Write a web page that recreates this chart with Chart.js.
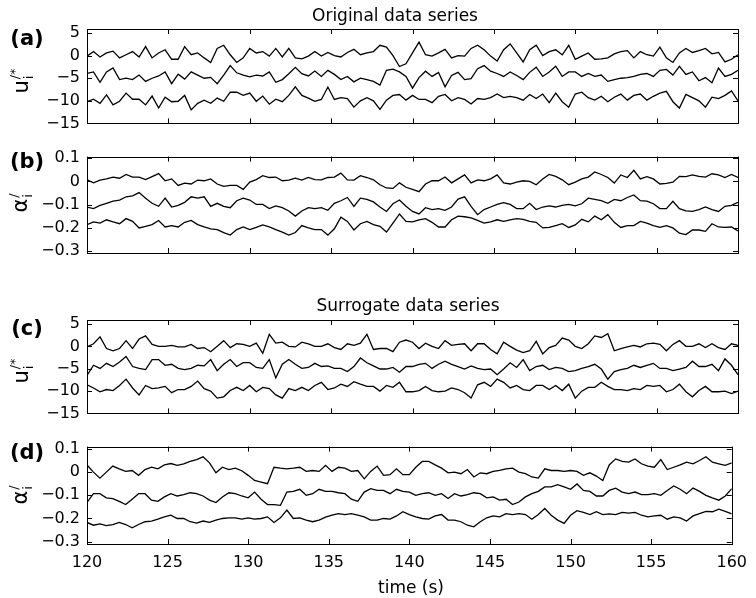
<!DOCTYPE html>
<html><head><meta charset="utf-8">
<script src="https://cdn.jsdelivr.net/npm/chart.js@4.4.1/dist/chart.umd.min.js"></script>
<style>
html,body{margin:0;padding:0;background:#fff;}
#wrap{position:relative;width:756px;height:598px;overflow:hidden;background:#fff;font-family:'DejaVu Sans',sans-serif;color:#000;}
.cv{position:absolute;left:0;}
.t{position:absolute;white-space:nowrap;line-height:1;transform:translate(-50%,-50%);}
.pl{font-weight:bold;font-size:21px;}
.tt{font-size:17px;}
.yl{position:absolute;white-space:nowrap;line-height:1;font-size:21px;transform:translate(-50%,-50%) rotate(-90deg);}
.ss{display:inline-block;vertical-align:middle;font-size:13px;line-height:1.05;text-align:left;margin-left:1px;}
.ss span{display:block;}
</style></head><body>
<div id="wrap">
<canvas id="ca" class="cv" style="top:0px" width="756" height="140"></canvas>
<canvas id="cb" class="cv" style="top:140px" width="756" height="130"></canvas>
<canvas id="cc" class="cv" style="top:290px" width="756" height="140"></canvas>
<canvas id="cd" class="cv" style="top:430px" width="756" height="168"></canvas>
<div class="t tt" style="left:395px;top:15px">Original data series</div>
<div class="t tt" style="left:408px;top:305px">Surrogate data series</div>
<div class="t pl" style="left:27px;top:38px">(a)</div>
<div class="t pl" style="left:27px;top:161px">(b)</div>
<div class="t pl" style="left:27px;top:328px">(c)</div>
<div class="t pl" style="left:27px;top:452px">(d)</div>
<div class="yl" style="left:22px;top:81px">u<span class="ss"><span>/*</span><span>i</span></span></div>
<div class="yl" style="left:21px;top:203px">α<span class="ss"><span>/</span><span>i</span></span></div>
<div class="yl" style="left:22px;top:371px">u<span class="ss"><span>/*</span><span>i</span></span></div>
<div class="yl" style="left:21px;top:495px">α<span class="ss"><span>/</span><span>i</span></span></div>
<div class="t tt" style="left:411px;top:587px">time (s)</div>
</div>
<script>
const TIME = [120,120.4,120.8,121.2,121.6,122,122.4,122.8,123.2,123.6,124,124.4,124.8,125.2,125.6,126,126.4,126.8,127.2,127.6,128,128.4,128.8,129.2,129.6,130,130.4,130.8,131.2,131.6,132,132.4,132.8,133.2,133.6,134,134.4,134.8,135.2,135.6,136,136.4,136.8,137.2,137.6,138,138.4,138.8,139.2,139.6,140,140.4,140.8,141.2,141.6,142,142.4,142.8,143.2,143.6,144,144.4,144.8,145.2,145.6,146,146.4,146.8,147.2,147.6,148,148.4,148.8,149.2,149.6,150,150.4,150.8,151.2,151.6,152,152.4,152.8,153.2,153.6,154,154.4,154.8,155.2,155.6,156,156.4,156.8,157.2,157.6,158,158.4,158.8,159.2,159.6,160];
const X_TICKS = [120,125,130,135,140,145,150,155,160];
const U_TICKS = [-15,-10,-5,0,5];
const A_TICKS = [-0.3,-0.2,-0.1,0,0.1];

// (a) original u*
const A1 = [-0.1,0.9,-0.3,0.6,1.0,-0.5,0.2,0.9,-0.3,2.0,-0.5,0.6,1.3,-0.8,-0.8,2.0,0.2,0.6,-0.5,-1.5,1.6,2.3,0.2,-1.5,-0.5,1.6,0.6,0.9,-0.1,1.6,-0.3,1.6,-0.5,-0.7,-0.1,0.9,
 -0.1,0.7,0.0,-0.3,0.7,1.4,0.2,0.6,0.9,2.3,1.9,0.0,-2.4,-1.8,0.6,3.0,0.2,-0.1,0.6,1.4,-0.5,0.0,-0.1,1.6,2.3,1.3,-0.1,-1.2,1.3,2.6,0.6,-1.4,
 1.3,2.3,0.0,0.9,1.3,0.2,2.3,-0.8,-0.1,0.6,-0.8,-0.7,-0.5,0.4,0.9,1.1,-0.5,0.9,0.2,-0.1,1.9,-0.5,-1.5,0.6,1.6,0.7,1.1,1.6,0.4,0.7,-1.4,-0.8,0.2];
const A2 = [-3.95,-3.6,-5.9,-3.6,-2.7,-5.3,-5.0,-5.3,-4.3,-5.7,-5.0,-4.5,-3.6,-6.2,-4.1,-5.2,-3.6,-4.3,-5.0,-4.8,-6.2,-4.3,-2.2,-3.8,-4.3,-4.7,-4.3,-4.5,-3.6,-5.9,-5.3,-4.0,-2.6,-4.0,-4.5,-3.4,
 -4.6,-3.25,-4.15,-5.3,-4.6,-5.8,-5.0,-5.3,-5.7,-6.5,-3.25,-3.0,-3.6,-4.6,-7.2,-4.85,-3.45,-4.6,-3.7,-6.9,-4.4,-3.7,-5.3,-5.1,-2.9,-2.2,-3.45,-3.95,-4.6,-3.6,-4.4,-5.3,
 -3.7,-2.55,-4.6,-3.6,-2.35,-4.6,-3.6,-3.6,-4.6,-3.95,-4.6,-4.3,-5.7,-5.3,-5.0,-4.85,-4.6,-4.15,-3.95,-4.6,-3.25,-3.05,-4.3,-2.35,-4.15,-3.6,-5.55,-4.85,-6.0,-2.75,-4.6,-4.15,-3.25];
const A3 = [-10.2,-9.65,-10.55,-8.7,-10.9,-10.1,-8.3,-9.65,-9.65,-10.9,-8.95,-11.6,-9.2,-10.2,-10.1,-8.8,-12.0,-10.55,-9.85,-10.55,-9.4,-10.1,-8.1,-8.1,-8.8,-8.3,-10.1,-8.95,-10.75,-9.65,-10.2,-8.8,-6.9,-8.8,-9.4,-10.1,
 -9.7,-6.95,-9.7,-9.3,-9.5,-11.4,-10.0,-9.3,-10.0,-11.9,-9.85,-8.8,-8.6,-9.85,-8.8,-9.7,-9.7,-10.4,-9.0,-8.6,-10.0,-9.3,-9.7,-10.7,-9.5,-9.7,-9.3,-8.5,-9.3,-9.0,-9.3,-9.85,
 -8.6,-9.5,-8.5,-10.4,-8.3,-10.2,-11.4,-8.5,-8.1,-9.3,-9.85,-9.0,-10.2,-9.2,-8.5,-9.85,-8.8,-8.5,-9.85,-9.0,-8.3,-7.9,-10.2,-11.6,-8.6,-9.3,-10.0,-11.4,-9.2,-9.5,-8.8,-7.8,-10.0];

// (b) original alpha
const B1 = [0.007,-0.006,0.006,0.011,0.019,0.014,0.030,0.019,0.019,0.008,0.021,0.034,0.003,0.011,-0.017,-0.007,-0.011,0.006,0.003,0.011,-0.011,-0.021,-0.017,-0.017,-0.034,-0.003,0.008,0.025,0.017,0.019,0.003,0.006,0.014,0.006,0.017,0.008,
 0.007,0.017,0.019,0.036,0.007,0.006,0.025,0.017,0.007,-0.014,-0.028,-0.030,-0.006,-0.025,-0.034,-0.044,-0.011,0.003,0.003,0.019,-0.006,0.011,0.028,-0.006,0.007,0.003,0.011,0.028,-0.006,-0.011,-0.003,0.003,
 0.000,-0.014,0.011,0.030,0.022,0.007,-0.014,-0.003,0.011,0.019,0.041,0.030,0.017,-0.007,0.028,0.017,0.048,0.011,0.021,0.011,-0.011,-0.008,-0.003,0.022,0.021,0.028,0.022,0.019,0.033,0.028,0.017,0.030,0.017];
const B2 = [-0.110,-0.117,-0.103,-0.094,-0.085,-0.080,-0.066,-0.062,-0.048,-0.072,-0.094,-0.107,-0.072,-0.110,-0.103,-0.090,-0.066,-0.072,-0.066,-0.107,-0.094,-0.107,-0.113,-0.083,-0.072,-0.080,-0.099,-0.099,-0.117,-0.105,-0.113,-0.127,-0.149,-0.127,-0.113,-0.117,
 -0.113,-0.124,-0.094,-0.083,-0.069,-0.107,-0.072,-0.077,-0.088,-0.110,-0.129,-0.096,-0.080,-0.107,-0.129,-0.140,-0.113,-0.121,-0.117,-0.124,-0.110,-0.076,-0.066,-0.107,-0.143,-0.121,-0.110,-0.099,-0.091,-0.099,-0.117,-0.117,
 -0.094,-0.121,-0.110,-0.105,-0.110,-0.103,-0.099,-0.105,-0.096,-0.072,-0.077,-0.083,-0.094,-0.077,-0.083,-0.069,-0.058,-0.083,-0.085,-0.096,-0.117,-0.117,-0.085,-0.117,-0.127,-0.129,-0.121,-0.110,-0.121,-0.129,-0.107,-0.103,-0.090];
const B3 = [-0.186,-0.174,-0.179,-0.165,-0.174,-0.182,-0.160,-0.172,-0.200,-0.193,-0.186,-0.168,-0.196,-0.190,-0.196,-0.176,-0.168,-0.186,-0.196,-0.204,-0.207,-0.220,-0.231,-0.207,-0.196,-0.207,-0.198,-0.187,-0.196,-0.207,-0.218,-0.231,-0.220,-0.190,-0.200,-0.207,
 -0.207,-0.231,-0.204,-0.154,-0.172,-0.209,-0.182,-0.172,-0.186,-0.193,-0.218,-0.179,-0.140,-0.172,-0.174,-0.165,-0.160,-0.176,-0.196,-0.196,-0.165,-0.149,-0.152,-0.157,-0.168,-0.179,-0.174,-0.165,-0.172,-0.165,-0.160,-0.163,
 -0.172,-0.176,-0.200,-0.198,-0.190,-0.182,-0.198,-0.187,-0.163,-0.174,-0.149,-0.165,-0.143,-0.176,-0.198,-0.190,-0.190,-0.172,-0.179,-0.190,-0.198,-0.190,-0.200,-0.223,-0.229,-0.209,-0.209,-0.215,-0.182,-0.196,-0.198,-0.196,-0.213];

// (c) surrogate u*
const C1 = [-0.13,0.58,2.13,-0.48,-0.98,-0.48,1.28,-0.48,1.64,2.34,0.44,0.01,0.01,0.22,-0.13,-0.13,0.44,-0.48,-0.27,-1.19,0.01,1.28,-0.27,0.58,0.44,0.01,0.72,-1.54,2.7,0.72,0.93,0.01,-0.13,0.93,0.58,0.01,
 0.01,0.58,-0.27,-0.69,0.58,0.22,0.72,2.7,-0.69,-0.48,-0.48,-1.19,0.93,1.42,0.93,-0.48,0.72,0.01,-0.48,1.28,0.22,0.44,0.58,-0.98,0.58,0.58,-0.69,-1.68,0.93,0.01,-0.84,-1.4,
 -0.98,1.14,-1.68,-0.27,0.22,1.85,1.42,0.01,-0.48,0.58,2.34,1.99,2.84,-0.98,-0.48,-0.13,0.22,-0.13,0.58,0.72,0.44,-0.98,0.44,1.28,0.01,0.01,0.58,-0.27,0.58,-0.27,-0.69,0.58,0.22];
const C2 = [-6.49,-4.23,-4.93,-3.8,-4.51,-3.52,-2.25,-4.51,-4.93,-5.21,-2.95,-2.95,-4.23,-4.01,-4.93,-5.21,-4.93,-4.23,-4.37,-2.95,-5.43,-4.01,-2.95,-4.51,-3.66,-3.66,-4.72,-4.93,-2.95,-7.05,-4.01,-2.95,-4.01,-4.93,-4.72,-3.8,
 -4.51,-4.37,-4.93,-4.93,-5.64,-4.51,-2.6,-3.66,-4.37,-5.07,-5.07,-4.72,-5.78,-4.51,-4.51,-4.01,-3.8,-4.93,-4.01,-3.31,-4.01,-4.51,-5.07,-4.37,-4.93,-5.21,-5.07,-6.35,-5.07,-3.66,-4.72,-2.95,
 -5.43,-4.51,-4.23,-5.21,-4.72,-4.93,-5.64,-5.43,-4.93,-4.51,-4.01,-5.07,-7.33,-5.64,-5.21,-4.93,-4.23,-4.72,-4.23,-3.8,-4.93,-4.93,-5.43,-5.07,-4.72,-3.31,-4.51,-4.51,-4.01,-5.43,-2.81,-4.23,-6.35];
const C3 = [-8.6,-9.31,-10.16,-9.66,-9.88,-8.75,-7.33,-9.31,-10.86,-8.75,-9.45,-9.31,-8.96,-10.37,-9.66,-9.66,-8.96,-7.76,-9.45,-10.02,-11.57,-11.29,-9.88,-9.17,-9.88,-8.75,-10.16,-9.17,-9.45,-10.86,-11.57,-9.45,-9.88,-9.17,-9.88,-8.75,
 -8.04,-9.66,-9.31,-8.46,-8.96,-7.9,-8.46,-8.96,-8.96,-10.02,-8.75,-9.17,-8.04,-10.16,-10.16,-9.88,-8.96,-9.88,-10.16,-10.02,-9.31,-9.66,-10.37,-11.57,-8.6,-8.04,-8.96,-7.33,-8.04,-9.31,-8.75,-9.66,
 -9.88,-8.75,-8.75,-9.66,-8.75,-9.88,-8.46,-11.57,-10.02,-9.17,-9.17,-8.04,-8.96,-9.66,-9.66,-9.88,-9.45,-9.66,-8.75,-8.96,-8.75,-10.16,-9.66,-8.46,-10.16,-11.29,-9.88,-8.96,-10.16,-10.16,-10.02,-10.58,-10.02];

// (d) surrogate alpha
const D1 = [0.031,0.000,-0.026,0.000,0.026,0.014,0.003,0.007,-0.014,0.011,0.021,0.014,0.031,0.037,0.029,0.036,0.046,0.054,0.066,0.040,-0.003,0.021,0.011,0.017,0.006,-0.014,-0.036,-0.043,-0.050,0.021,0.017,0.014,0.017,0.021,0.003,0.007,
 0.003,0.029,0.003,0.021,0.017,0.003,0.007,-0.029,0.003,0.026,-0.014,-0.011,0.014,-0.011,-0.011,0.021,0.046,0.046,0.031,0.017,-0.003,0.000,-0.007,0.011,-0.021,-0.003,-0.007,0.003,0.007,0.014,0.017,0.000,
 -0.007,-0.021,-0.026,0.014,0.007,0.007,0.003,0.007,0.003,-0.014,-0.003,-0.017,-0.036,0.031,0.057,0.046,0.043,0.057,0.036,0.026,0.021,0.054,0.011,0.021,0.031,0.043,0.036,0.050,0.066,0.043,0.036,0.029,0.040];
const D2 = [-0.131,-0.093,-0.093,-0.111,-0.114,-0.126,-0.140,-0.117,-0.093,-0.093,-0.121,-0.126,-0.107,-0.093,-0.103,-0.097,-0.089,-0.093,-0.103,-0.121,-0.131,-0.107,-0.089,-0.093,-0.103,-0.111,-0.086,-0.117,-0.140,-0.140,-0.143,-0.086,-0.083,-0.074,-0.100,-0.093,
 -0.074,-0.083,-0.083,-0.089,-0.093,-0.117,-0.126,-0.086,-0.071,-0.079,-0.079,-0.093,-0.074,-0.083,-0.086,-0.100,-0.093,-0.089,-0.100,-0.093,-0.114,-0.093,-0.103,-0.097,-0.089,-0.093,-0.111,-0.107,-0.121,-0.117,-0.140,-0.129,
 -0.107,-0.093,-0.083,-0.064,-0.064,-0.054,-0.064,-0.074,-0.051,-0.079,-0.083,-0.103,-0.103,-0.079,-0.069,-0.086,-0.093,-0.086,-0.097,-0.097,-0.093,-0.100,-0.079,-0.060,-0.074,-0.093,-0.069,-0.083,-0.100,-0.111,-0.121,-0.103,-0.071];
const D3 = [-0.217,-0.229,-0.223,-0.231,-0.226,-0.217,-0.226,-0.240,-0.226,-0.214,-0.211,-0.203,-0.193,-0.186,-0.200,-0.200,-0.214,-0.220,-0.211,-0.217,-0.207,-0.200,-0.197,-0.197,-0.203,-0.197,-0.203,-0.200,-0.193,-0.217,-0.197,-0.164,-0.200,-0.197,-0.207,-0.214,
 -0.207,-0.194,-0.186,-0.179,-0.183,-0.179,-0.186,-0.193,-0.207,-0.207,-0.200,-0.203,-0.189,-0.171,-0.183,-0.193,-0.200,-0.203,-0.189,-0.183,-0.207,-0.207,-0.214,-0.229,-0.236,-0.214,-0.197,-0.189,-0.193,-0.179,-0.183,-0.179,
 -0.183,-0.203,-0.183,-0.157,-0.186,-0.207,-0.221,-0.186,-0.166,-0.174,-0.183,-0.171,-0.183,-0.180,-0.183,-0.174,-0.177,-0.174,-0.186,-0.193,-0.189,-0.186,-0.203,-0.193,-0.197,-0.211,-0.189,-0.179,-0.169,-0.171,-0.160,-0.169,-0.180];

Chart.defaults.font.family = "'DejaVu Sans', sans-serif";
Chart.defaults.font.size = 16;
Chart.defaults.color = '#000';

const fmt = v => (v < 0 ? '\u2212' : '') + String(Math.abs(v));

const boxTicks = {
  id: 'boxTicks',
  afterDatasetsDraw(chart) {
    const {ctx, chartArea: a, scales: {x, y}} = chart;
    const L = 5;
    ctx.save();
    ctx.strokeStyle = '#000';
    ctx.lineWidth = 1;
    ctx.beginPath();
    X_TICKS.forEach(v => {
      const px = Math.round(x.getPixelForValue(v)) + 0.5;
      ctx.moveTo(px, a.top); ctx.lineTo(px, a.top + L);
      ctx.moveTo(px, a.bottom); ctx.lineTo(px, a.bottom - L);
    });
    y.ticks.forEach(t => {
      const py = Math.round(y.getPixelForValue(t.value)) + 0.5;
      ctx.moveTo(a.left, py); ctx.lineTo(a.left + L, py);
      ctx.moveTo(a.right, py); ctx.lineTo(a.right - L, py);
    });
    ctx.stroke();
    ctx.strokeRect(Math.round(a.left) + 0.5, Math.round(a.top) + 0.5, Math.round(a.right - a.left), Math.round(a.bottom - a.top));
    ctx.restore();
  }
};

function panel(id, series, yMin, yMax, yTicks, padTop, padBottom, showX) {
  const datasets = series.map(s => ({
    data: s.map((v, i) => ({x: TIME[i], y: v})),
    borderColor: '#000', borderWidth: 1.3, pointRadius: 0, tension: 0, fill: false
  }));
  return new Chart(document.getElementById(id), {
    type: 'line',
    data: {datasets},
    options: {
      responsive: false, animation: false, events: [],
      layout: {padding: {left: 0, right: 18, top: padTop, bottom: showX ? 0 : padBottom}},
      plugins: {legend: {display: false}, tooltip: {enabled: false}, title: {display: false}},
      scales: {
        x: {
          type: 'linear', min: 120, max: 160, display: showX,
          afterBuildTicks: s => { s.ticks = X_TICKS.map(v => ({value: v})); },
          ticks: {padding: 9, maxRotation: 0, autoSkip: false, callback: v => fmt(v), font: {size: 16}},
          grid: {display: false, drawTicks: false}, border: {display: false},
          afterFit: s => { if (showX) s.height = padBottom; }
        },
        y: {
          type: 'linear', min: yMin, max: yMax,
          afterBuildTicks: s => { s.ticks = yTicks.map(v => ({value: v})); },
          ticks: {padding: 7, callback: v => fmt(v), font: {size: 16}},
          grid: {display: false, drawTicks: false}, border: {display: false},
          afterFit: s => { s.width = 87; }
        }
      }
    },
    plugins: [boxTicks]
  });
}

panel('ca', [A1, A2, A3], -15, 5.9, U_TICKS, 29, 12, false);
panel('cb', [B1, B2, B3], -0.308, 0.107, A_TICKS, 14, 17, false);
panel('cc', [C1, C2, C3], -15, 5.9, U_TICKS, 30, 11, false);
panel('cd', [D1, D2, D3], -0.31, 0.11, A_TICKS, 15, 54, true);
</script>
</body></html>
